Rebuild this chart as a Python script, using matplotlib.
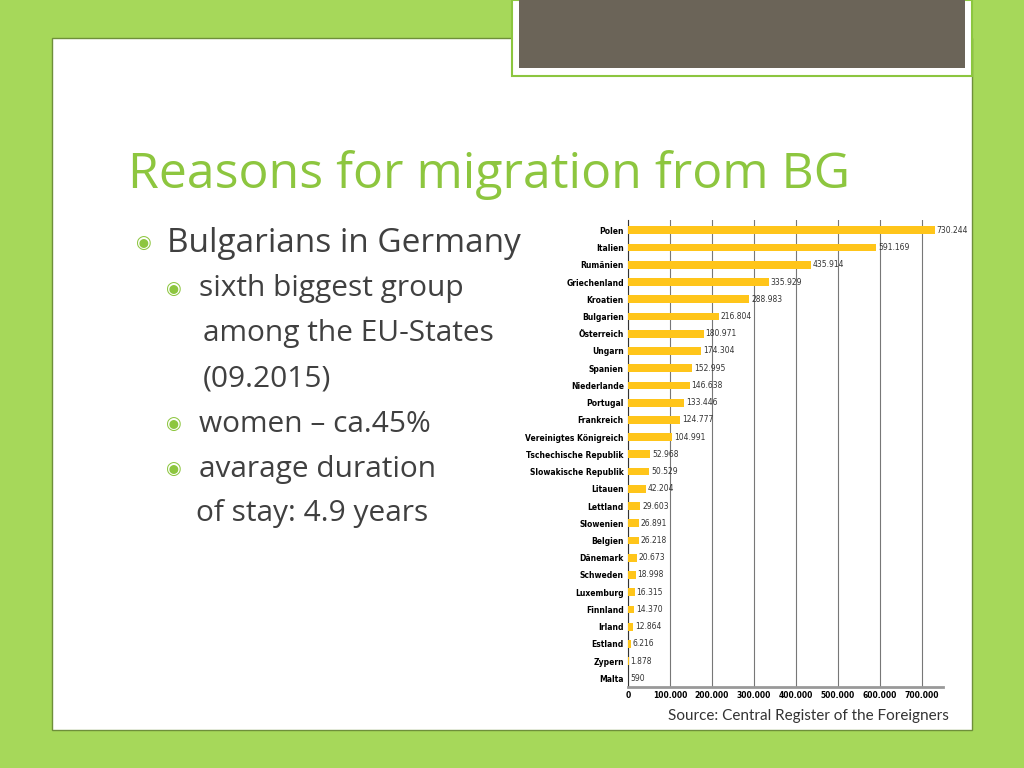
import matplotlib
matplotlib.use("Agg")
import matplotlib.pyplot as plt
from matplotlib.patches import Rectangle

countries = ["Polen","Italien","Rumänien","Griechenland","Kroatien","Bulgarien","Österreich","Ungarn",
             "Spanien","Niederlande","Portugal","Frankreich","Vereinigtes Königreich","Tschechische Republik",
             "Slowakische Republik","Litauen","Lettland","Slowenien","Belgien","Dänemark","Schweden",
             "Luxemburg","Finnland","Irland","Estland","Zypern","Malta"]
values = [730244,591169,435914,335929,288983,216804,180971,174304,152995,146638,133446,124777,104991,
          52968,50529,42204,29603,26891,26218,20673,18998,16315,14370,12864,6216,1878,590]
xticks = [0,100000,200000,300000,400000,500000,600000,700000]

fig = plt.figure(figsize=(10.24,7.68), dpi=100)
fig.patch.set_facecolor("#A6D85A")
fig.patches.append(Rectangle((52/1024, 1-730/768), 920/1024, 692/768, transform=fig.transFigure,
                             facecolor="white", edgecolor="#6E8F3A", lw=1, zorder=-3))
fig.patches.append(Rectangle((512/1024, 1-76/768), 460/1024, 76/768, transform=fig.transFigure,
                             facecolor="white", edgecolor="#8CC63F", lw=1.5, zorder=-2))
fig.patches.append(Rectangle((519/1024, 1-68/768), 446/1024, 68/768, transform=fig.transFigure,
                             facecolor="#6B6458", edgecolor="none", zorder=-1))

green = "#8DC63F"
fig.text(128/1024, 1-175/768, "Reasons for migration from BG", color=green, fontsize=36,
         family="Open Sans", va="center")
items = [(135, 243, 167, "Bulgarians in Germany", True),
         (165, 289, 199, "sixth biggest group", True),
         (None, 334, 203, "among the EU-States", False),
         (None, 379, 203, "(09.2015)", False),
         (165, 424, 199, "women – ca.45%", True),
         (165, 469, 199, "avarage duration", True),
         (None, 514, 196, "of stay: 4.9 years", False)]
for bx, y, tx, t, b in items:
    fs = 24 if tx == 167 else 21.5
    if bx is not None:
        fig.text(bx/1024, 1-y/768, "◉", color=green, fontsize=13, family="DejaVu Sans", va="center")
    fig.text(tx/1024, 1-y/768, t, color="#404040", fontsize=fs, family="Open Sans", va="center")

ax = fig.add_axes([628/1024, 1-687/768, 315/1024, 467/768], zorder=5)
ax.set_facecolor("white")
y = list(range(len(countries)))
ax.barh(y, values, height=0.45, color="#FFC51A", zorder=3)
ax.set_yticks(y)
ax.set_yticklabels(countries, fontsize=5.5, fontweight="bold", family="Liberation Sans Narrow")
ax.set_ylim(len(countries)-0.5, -0.6)
ax.set_xlim(0, 750000)
ax.set_xticks(xticks)
ax.set_xticklabels(["0"]+[f"{v//1000}.000" for v in xticks[1:]], fontsize=5.5, fontweight="bold",
                   family="Liberation Sans Narrow")
ax.xaxis.grid(True, color="#777777", lw=0.8, zorder=0)
ax.tick_params(length=0, pad=3)
for s in ["top","right"]:
    ax.spines[s].set_visible(False)
ax.spines["bottom"].set_color("#999999"); ax.spines["bottom"].set_linewidth(2)
ax.spines["left"].set_color("#333333")
for yi, v in zip(y, values):
    lab = f"{v:,}".replace(",", ".")
    ax.text(v + 4000, yi, lab, va="center", ha="left", fontsize=5.5, family="Liberation Sans Narrow",
            color="#333333", zorder=4)
fig.text(949/1024, 1-720/768, "Source: Central Register of the Foreigners", ha="right", fontsize=11,
         family="Lato", color="#333333")
fig.savefig("out.png", dpi=100, facecolor=fig.get_facecolor())
